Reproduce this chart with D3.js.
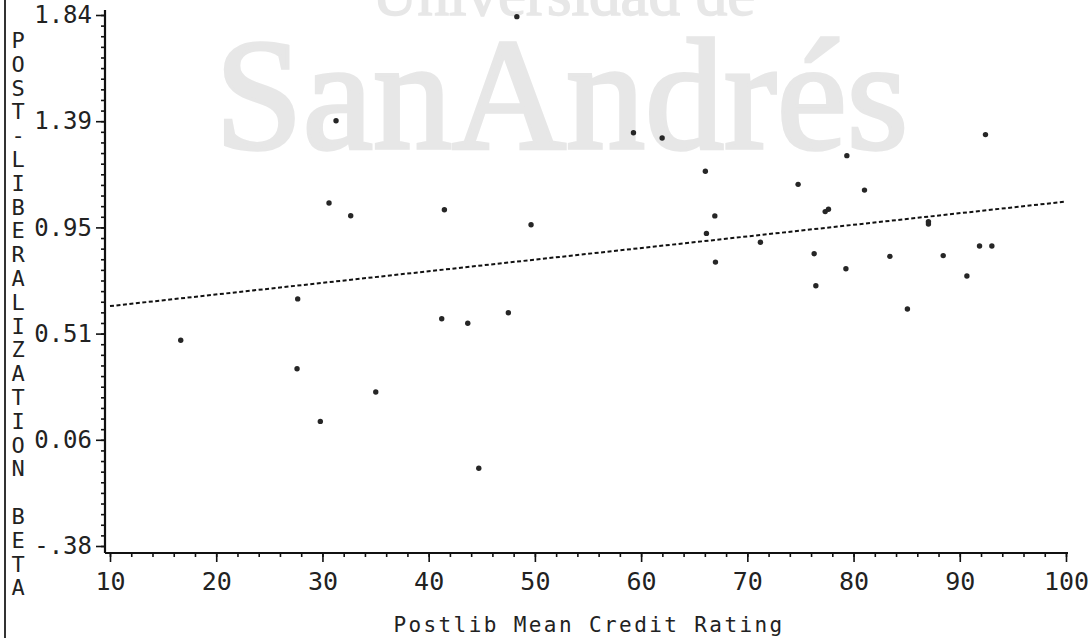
<!DOCTYPE html>
<html>
<head>
<meta charset="utf-8">
<script src="https://cdn.jsdelivr.net/npm/d3@7/dist/d3.min.js"></script>
<style>
  html, body { margin: 0; padding: 0; background: #fff; }
  svg text { font-family: "DejaVu Sans Mono", "Liberation Mono", monospace; fill: #222; }
</style>
</head>
<body>
<svg id="chart" width="1089" height="638"></svg>
<script>
'use strict';

// values
var creditRating = [48.30, 31.28, 30.62, 32.66, 41.48, 49.64, 59.28, 61.98, 92.42, 79.37,
                    66.05, 74.78, 81.03, 66.94, 77.33, 77.64, 87.05, 87.05, 66.15, 71.23,
                    76.29, 67.00, 83.42, 88.44, 91.86, 93.02, 79.28, 90.67, 76.45, 85.07,
                    27.67, 16.66, 41.23, 43.68, 47.50, 27.61, 35.02, 29.80, 44.72];
var postLibBeta  = [1.833, 1.398, 1.054, 1.001, 1.026, 0.963, 1.348, 1.326, 1.340, 1.252,
                    1.187, 1.132, 1.108, 1.000, 1.018, 1.028, 0.976, 0.966, 0.927, 0.890,
                    0.842, 0.807, 0.831, 0.834, 0.874, 0.874, 0.779, 0.749, 0.708, 0.611,
                    0.653, 0.480, 0.570, 0.551, 0.595, 0.361, 0.264, 0.141, -0.055];

// fitted line end points
var fitX = [10, 100];
var fitY = [0.623, 1.060];

var xTicks = [10, 20, 30, 40, 50, 60, 70, 80, 90, 100];
var yTicks = [-0.38, 0.064, 0.508, 0.952, 1.396, 1.84];
var yTickLabels = ['-.38', '0.06', '0.51', '0.95', '1.39', '1.84'];

var xTitle = 'Postlib Mean Credit Rating';
var yTitle = 'POST-LIBERALIZATION BETA';
var watermark = ['Universidad de', 'SanAndrés'];

(function() {
  var svg = d3.select('#chart');

  var x = d3.scaleLinear().domain([10, 100]).range([110, 1066]);
  var y = d3.scaleLinear().domain([-0.38, 1.84]).range([546, 15]);
  var baseY = 553, baseX = 105;

  // scanned watermark behind the plot
  var wm = svg.append('g')
    .style('font-family', '"Liberation Serif", "DejaVu Serif", serif');
  wm.append('text')
    .attr('x', 372).attr('y', 15)
    .style('font-family', 'inherit')
    .style('font-size', '63px')
    .style('fill', '#e7e7e7')
    .style('stroke', '#e7e7e7')
    .style('stroke-width', 1.5)
    .text(watermark[0]);
  wm.append('text')
    .attr('x', 215).attr('y', 148)
    .style('font-family', 'inherit')
    .style('font-size', '158px')
    .style('fill', '#e7e7e7')
    .style('stroke', '#e7e7e7')
    .style('stroke-width', 3.5)
    .text(watermark[1]);

  // page edge on the left of the scan
  svg.append('line')
    .attr('x1', 5).attr('x2', 5).attr('y1', 0).attr('y2', 638)
    .attr('stroke', '#333').attr('stroke-width', 2);

  // y axis
  var yMinor = d3.range(0, 51).map(function(i) { return -0.38 + i * 0.0444; });
  var gYMinor = svg.append('g')
    .attr('transform', 'translate(' + baseX + ',0)')
    .call(d3.axisLeft(y).tickValues(yMinor).tickSize(4).tickFormat(''));
  gYMinor.select('.domain').remove();

  var gY = svg.append('g')
    .attr('transform', 'translate(' + baseX + ',0)')
    .call(d3.axisLeft(y)
      .tickValues(yTicks)
      .tickFormat(function(d, i) { return yTickLabels[i]; })
      .tickSize(9)
      .tickPadding(4));
  gY.select('.domain').remove();
  gY.selectAll('text').style('font-size', '24px');

  // x axis
  var xMinor = d3.range(10, 101, 2);
  var gXMinor = svg.append('g')
    .attr('transform', 'translate(0,' + baseY + ')')
    .call(d3.axisBottom(x).tickValues(xMinor).tickSize(4).tickFormat(''));
  gXMinor.select('.domain').remove();

  var gX = svg.append('g')
    .attr('transform', 'translate(0,' + baseY + ')')
    .call(d3.axisBottom(x).tickValues(xTicks).tickSize(9).tickPadding(10));
  gX.select('.domain').remove();
  gX.selectAll('text').style('font-size', '25px');

  svg.selectAll('.tick line').attr('stroke', '#111').attr('stroke-width', 1.6);

  // axis spines
  svg.append('line')
    .attr('x1', baseX).attr('x2', baseX).attr('y1', 10).attr('y2', baseY)
    .attr('stroke', '#111').attr('stroke-width', 2.2);
  svg.append('line')
    .attr('x1', baseX).attr('x2', x(100) + 2).attr('y1', baseY).attr('y2', baseY)
    .attr('stroke', '#111').attr('stroke-width', 2.2);

  // titles
  svg.append('text')
    .attr('x', 589).attr('y', 632)
    .attr('text-anchor', 'middle')
    .style('font-size', '21px')
    .style('letter-spacing', '2.4px')
    .text(xTitle);

  svg.append('g').selectAll('text')
    .data(yTitle.split(''))
    .enter().append('text')
    .attr('x', 18)
    .attr('y', function(d, i) { return 40 + i * 23.8 + 8; })
    .attr('text-anchor', 'middle')
    .style('font-size', '22px')
    .text(function(d) { return d; });

  // dotted regression line
  var line = d3.line()
    .x(function(d) { return x(d[0]); })
    .y(function(d) { return y(d[1]); });
  svg.append('path')
    .datum(d3.zip(fitX, fitY))
    .attr('d', line)
    .attr('fill', 'none')
    .attr('stroke', '#111')
    .attr('stroke-width', 2)
    .attr('stroke-dasharray', '4,2.5');

  // scatter points
  svg.append('g').selectAll('circle')
    .data(d3.zip(creditRating, postLibBeta))
    .enter().append('circle')
    .attr('cx', function(d) { return x(d[0]); })
    .attr('cy', function(d) { return y(d[1]); })
    .attr('r', 2.7)
    .attr('fill', '#262626');
}());
</script>
</body>
</html>
